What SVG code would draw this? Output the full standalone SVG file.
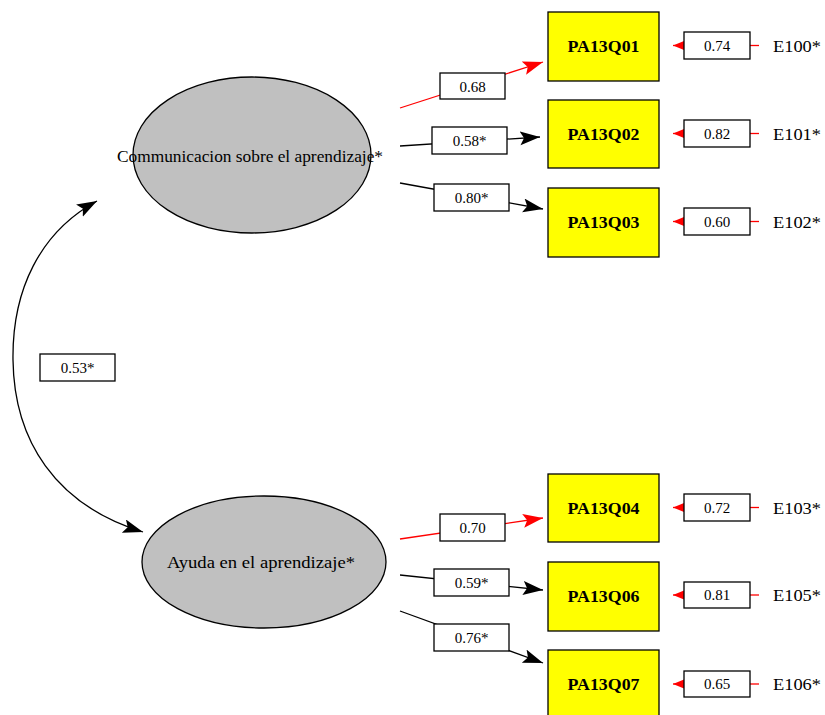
<svg xmlns="http://www.w3.org/2000/svg" width="825" height="715" viewBox="0 0 825 715">
  <style>
    .latent { fill: #c0c0c0; stroke: #000; stroke-width: 1.3; }
    .obs { fill: #ffff00; stroke: #000; stroke-width: 1.3; }
    .lbl { fill: #fff; stroke: #000; stroke-width: 1.3; }
    .t { font-family: "Liberation Serif", "Times New Roman", serif; fill: #000; text-anchor: middle; }
    .name { font-size: 16px; font-weight: bold; }
    .num { font-size: 15px; }
    .ell { font-size: 16px; }
    .err { font-size: 16px; text-anchor: start; }
    .blk { stroke: #000; stroke-width: 1.3; fill: none; }
    .red { stroke: #ff0000; stroke-width: 1.3; fill: none; }
  </style>
  <defs>
    <marker id="ahBlack" markerUnits="userSpaceOnUse" markerWidth="22" markerHeight="16" refX="20" refY="7" orient="auto-start-reverse">
      <path d="M0,0 L20,7 L0,14 L4,7 z" fill="#000"/>
    </marker>
    <marker id="ahRed" markerUnits="userSpaceOnUse" markerWidth="22" markerHeight="16" refX="20" refY="7" orient="auto">
      <path d="M0,0 L20,7 L0,14 L4,7 z" fill="#ff0000"/>
    </marker>
    <marker id="ahErr" markerUnits="userSpaceOnUse" markerWidth="12" markerHeight="10" refX="11" refY="4.5" orient="auto">
      <path d="M0,0 L11,4.5 L0,9 z" fill="#ff0000"/>
    </marker>
  </defs>

  <!-- paths, covariance and error terms -->
  <g id="connectors">
    <path class="blk" d="M97,201 C40,232 12,290 13,360 C14,440 55,505 143,532" marker-start="url(#ahBlack)" marker-end="url(#ahBlack)"/>
    <line class="red" x1="400" y1="108" x2="543" y2="62" marker-end="url(#ahRed)"/>
    <line class="blk" x1="400" y1="146" x2="540" y2="137" marker-end="url(#ahBlack)"/>
    <line class="blk" x1="400" y1="183" x2="543" y2="209" marker-end="url(#ahBlack)"/>
    <line class="red" x1="400" y1="539" x2="543" y2="518" marker-end="url(#ahRed)"/>
    <line class="blk" x1="400" y1="575" x2="543" y2="590" marker-end="url(#ahBlack)"/>
    <line class="blk" x1="400" y1="611" x2="543" y2="663" marker-end="url(#ahBlack)"/>
    <!-- error arrows -->
    <g>
      <line class="red" x1="759" y1="45.5" x2="750" y2="45.5"/>
      <line class="red" x1="684" y1="45.5" x2="673" y2="45.5" marker-end="url(#ahErr)"/>
      <line class="red" x1="759" y1="133.5" x2="750" y2="133.5"/>
      <line class="red" x1="684" y1="133.5" x2="673" y2="133.5" marker-end="url(#ahErr)"/>
      <line class="red" x1="759" y1="221.5" x2="750" y2="221.5"/>
      <line class="red" x1="684" y1="221.5" x2="673" y2="221.5" marker-end="url(#ahErr)"/>
      <line class="red" x1="759" y1="507.5" x2="750" y2="507.5"/>
      <line class="red" x1="684" y1="507.5" x2="673" y2="507.5" marker-end="url(#ahErr)"/>
      <line class="red" x1="759" y1="595" x2="750" y2="595"/>
      <line class="red" x1="684" y1="595" x2="673" y2="595" marker-end="url(#ahErr)"/>
      <line class="red" x1="759" y1="684" x2="750" y2="684"/>
      <line class="red" x1="684" y1="684" x2="673" y2="684" marker-end="url(#ahErr)"/>
    </g>
    <!-- coefficient labels -->
    <g>
      <rect class="lbl" x="40" y="354" width="75" height="27"/>
      <text class="t num" x="77.5" y="373">0.53*</text>
      <rect class="lbl" x="440" y="73" width="65" height="26"/>
      <text class="t num" x="472.5" y="92">0.68</text>
      <rect class="lbl" x="432" y="127" width="75" height="27"/>
      <text class="t num" x="469.5" y="146">0.58*</text>
      <rect class="lbl" x="434" y="184" width="75" height="27"/>
      <text class="t num" x="471.5" y="203">0.80*</text>
      <rect class="lbl" x="440" y="514" width="65" height="27"/>
      <text class="t num" x="472.5" y="533">0.70</text>
      <rect class="lbl" x="434" y="569" width="75" height="27"/>
      <text class="t num" x="471.5" y="588">0.59*</text>
      <rect class="lbl" x="434" y="624" width="75" height="27"/>
      <text class="t num" x="471.5" y="643">0.76*</text>
    </g>
  </g>

  <g id="F1">
    <ellipse class="latent" cx="252" cy="155" rx="119" ry="78"/>
    <text class="t ell" x="250" y="162" textLength="266" lengthAdjust="spacingAndGlyphs">Communicacion sobre el aprendizaje*</text>
  </g>
  <g id="F2">
    <ellipse class="latent" cx="264" cy="562" rx="122" ry="66"/>
    <text class="t ell" x="261" y="568" textLength="188" lengthAdjust="spacingAndGlyphs">Ayuda en el aprendizaje*</text>
  </g>

  <g id="PA13Q01">
    <rect class="obs" x="548" y="12" width="111" height="69"/>
    <text class="t name" x="603.5" y="52" textLength="72" lengthAdjust="spacingAndGlyphs">PA13Q01</text>
  </g>
  <g id="PA13Q02">
    <rect class="obs" x="548" y="100" width="111" height="68"/>
    <text class="t name" x="603.5" y="140" textLength="72" lengthAdjust="spacingAndGlyphs">PA13Q02</text>
  </g>
  <g id="PA13Q03">
    <rect class="obs" x="548" y="188" width="111" height="69"/>
    <text class="t name" x="603.5" y="228" textLength="72" lengthAdjust="spacingAndGlyphs">PA13Q03</text>
  </g>
  <g id="PA13Q04">
    <rect class="obs" x="548" y="474" width="111" height="68"/>
    <text class="t name" x="603.5" y="514" textLength="72" lengthAdjust="spacingAndGlyphs">PA13Q04</text>
  </g>
  <g id="PA13Q06">
    <rect class="obs" x="548" y="562" width="111" height="69"/>
    <text class="t name" x="603.5" y="602" textLength="72" lengthAdjust="spacingAndGlyphs">PA13Q06</text>
  </g>
  <g id="PA13Q07">
    <rect class="obs" x="548" y="650" width="111" height="69"/>
    <text class="t name" x="603.5" y="690" textLength="72" lengthAdjust="spacingAndGlyphs">PA13Q07</text>
  </g>

  <g id="E100">
    <rect class="lbl" x="684" y="32" width="66" height="27"/>
    <text class="t num" x="717" y="51">0.74</text>
    <text class="t err" x="773" y="52" textLength="48" lengthAdjust="spacingAndGlyphs">E100*</text>
  </g>
  <g id="E101">
    <rect class="lbl" x="684" y="120" width="66" height="27"/>
    <text class="t num" x="717" y="139">0.82</text>
    <text class="t err" x="773" y="140" textLength="48" lengthAdjust="spacingAndGlyphs">E101*</text>
  </g>
  <g id="E102">
    <rect class="lbl" x="684" y="208" width="66" height="27"/>
    <text class="t num" x="717" y="227">0.60</text>
    <text class="t err" x="773" y="228" textLength="48" lengthAdjust="spacingAndGlyphs">E102*</text>
  </g>
  <g id="E103">
    <rect class="lbl" x="684" y="494" width="66" height="27"/>
    <text class="t num" x="717" y="513">0.72</text>
    <text class="t err" x="773" y="514" textLength="48" lengthAdjust="spacingAndGlyphs">E103*</text>
  </g>
  <g id="E105">
    <rect class="lbl" x="684" y="582" width="66" height="26"/>
    <text class="t num" x="717" y="600">0.81</text>
    <text class="t err" x="773" y="601" textLength="48" lengthAdjust="spacingAndGlyphs">E105*</text>
  </g>
  <g id="E106">
    <rect class="lbl" x="684" y="671" width="66" height="26"/>
    <text class="t num" x="717" y="689">0.65</text>
    <text class="t err" x="773" y="690" textLength="48" lengthAdjust="spacingAndGlyphs">E106*</text>
  </g>
</svg>
